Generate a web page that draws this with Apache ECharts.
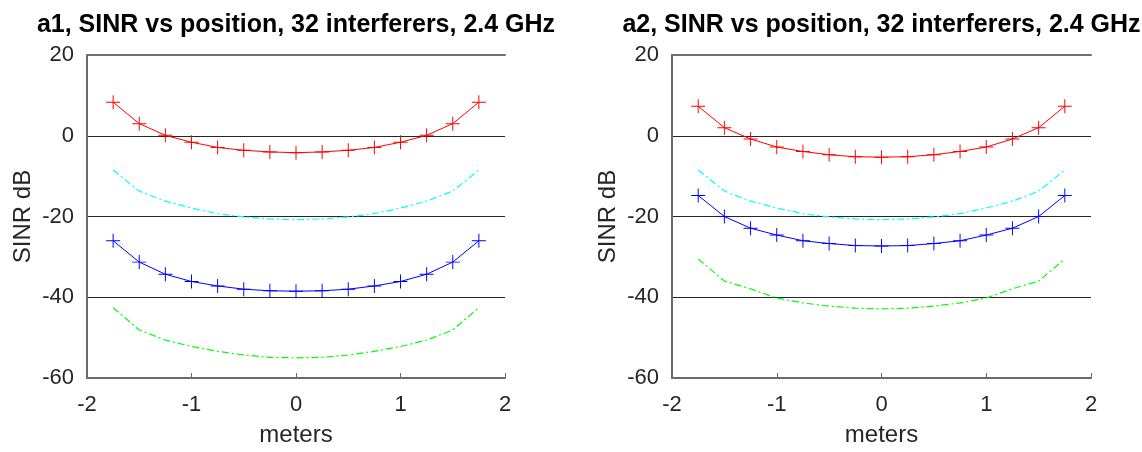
<!DOCTYPE html>
<html><head><meta charset="utf-8">
<script src="https://cdn.jsdelivr.net/npm/echarts@6/dist/echarts.min.js"></script>
<style>html,body{margin:0;padding:0;background:#fff}#c{width:1142px;height:452px}</style>
</head><body><div id="c"></div>
<script>
const positions = [-1.75,-1.5,-1.25,-1,-0.75,-0.5,-0.25,0,0.25,0.5,0.75,1,1.25,1.5,1.75];
const xTicks = [-2,-1,0,1,2];
const yTicks = [-60,-40,-20,0,20];
const titles = ['a1, SINR vs position, 32 interferers, 2.4 GHz','a2, SINR vs position, 32 interferers, 2.4 GHz'];
const a1Red   = [8.3,3.0,0.1,-1.6,-2.9,-3.6,-4.0,-4.2,-4.0,-3.6,-2.9,-1.6,0.1,3.0,8.3];
const a1Cyan  = [-8.5,-13.7,-16.2,-17.9,-19.3,-20.1,-20.6,-20.8,-20.6,-20.1,-19.3,-17.9,-16.2,-13.7,-8.5];
const a1Blue  = [-26.0,-31.3,-34.3,-36.1,-37.2,-38.0,-38.4,-38.5,-38.4,-38.0,-37.2,-36.1,-34.3,-31.3,-26.0];
const a1Green = [-42.6,-48.1,-50.6,-52.2,-53.4,-54.3,-54.9,-55.0,-54.9,-54.3,-53.4,-52.2,-50.6,-48.1,-42.6];
const a2Red   = [7.3,2.0,-0.8,-2.8,-3.9,-4.7,-5.2,-5.3,-5.2,-4.7,-3.9,-2.8,-0.8,2.0,7.3];
const a2Cyan  = [-8.5,-13.7,-16.2,-17.9,-19.3,-20.1,-20.6,-20.8,-20.6,-20.1,-19.3,-17.9,-16.2,-13.7,-8.5];
const a2Blue  = [-14.8,-20.0,-22.9,-24.6,-26.0,-26.7,-27.2,-27.3,-27.2,-26.7,-26.0,-24.6,-22.9,-20.0,-14.8];
const a2Green = [-30.5,-36.0,-37.9,-40.2,-41.4,-42.2,-42.7,-42.9,-42.7,-42.2,-41.4,-40.2,-37.9,-36.0,-30.5];

const panels = [
  {red:a1Red,cyan:a1Cyan,blue:a1Blue,green:a1Green,left:87,width:418},
  {red:a2Red,cyan:a2Cyan,blue:a2Blue,green:a2Green,left:672,width:419}
];
const plus = 'path://M-0.07,-1H0.07V1H-0.07Z M-1,-0.07H1V0.07H-1Z';
const FONT = 'Liberation Sans, Arial, sans-serif';
const pairs = arr => positions.map((x,i)=>[x,arr[i]]);

const grid=[], xAxis=[], yAxis=[], series=[], graphic=[];
panels.forEach((p,k)=>{
  grid.push({left:p.left,width:p.width,top:55,height:328});
  xAxis.push({type:'value',gridIndex:k,min:xTicks[0],max:xTicks[xTicks.length-1],interval:1,
    name:'meters',nameLocation:'middle',nameGap:45,
    nameTextStyle:{fontFamily:FONT,fontSize:24,color:'#262626'},
    axisLine:{onZero:false,lineStyle:{color:'#6a6a6a',width:2}},
    axisTick:{inside:true,length:5,lineStyle:{color:'#6a6a6a',width:1}},
    axisLabel:{fontFamily:FONT,fontSize:22,color:'#262626',margin:16},
    splitLine:{show:false}});
  xAxis.push({type:'value',gridIndex:k,position:'top',min:xTicks[0],max:xTicks[xTicks.length-1],interval:1,
    axisLine:{onZero:false,lineStyle:{color:'#707070',width:2}},axisTick:{show:false},axisLabel:{show:false},splitLine:{show:false}});
  yAxis.push({type:'value',gridIndex:k,min:yTicks[0],max:yTicks[yTicks.length-1],interval:20,
    name:'SINR dB',nameLocation:'middle',nameGap:52,nameRotate:90,
    nameTextStyle:{fontFamily:FONT,fontSize:24,color:'#262626'},
    axisLine:{show:true,onZero:false,lineStyle:{color:'#6a6a6a',width:2}},
    axisTick:{show:false},
    axisLabel:{fontFamily:FONT,fontSize:22,color:'#262626',margin:13},
    splitLine:{show:true,showMinLine:false,showMaxLine:false,lineStyle:{color:'#262626',width:1.2}}});
  const xi = k*2;
  const base = {type:'line',xAxisIndex:xi,yAxisIndex:k,silent:true,animation:false};
  series.push(Object.assign({},base,{data:pairs(p.red),symbol:plus,symbolSize:14,showSymbol:true,
    itemStyle:{color:'#ff0000'},lineStyle:{color:'#ff0000',width:1}}));
  series.push(Object.assign({},base,{data:pairs(p.cyan),symbol:'none',
    lineStyle:{color:'#00ffff',width:1.2,type:[7,3,2,3]}}));
  series.push(Object.assign({},base,{data:pairs(p.blue),symbol:plus,symbolSize:14,showSymbol:true,
    itemStyle:{color:'#0000ff'},lineStyle:{color:'#0000ff',width:1}}));
  series.push(Object.assign({},base,{data:pairs(p.green),symbol:'none',
    lineStyle:{color:'#00ff00',width:1.2,type:[7,3,2,3]}}));
  graphic.push({type:'text',x:p.left+p.width/2,y:25,silent:true,
    style:{text:titles[k],fill:'#000',fontFamily:FONT,fontSize:25,fontWeight:'bold',align:'center',verticalAlign:'middle'}});
});

const chart = echarts.init(document.getElementById('c'),null,{renderer:'canvas'});
chart.setOption({animation:false,backgroundColor:'#fff',grid,xAxis,yAxis,series,graphic});
</script></body></html>
